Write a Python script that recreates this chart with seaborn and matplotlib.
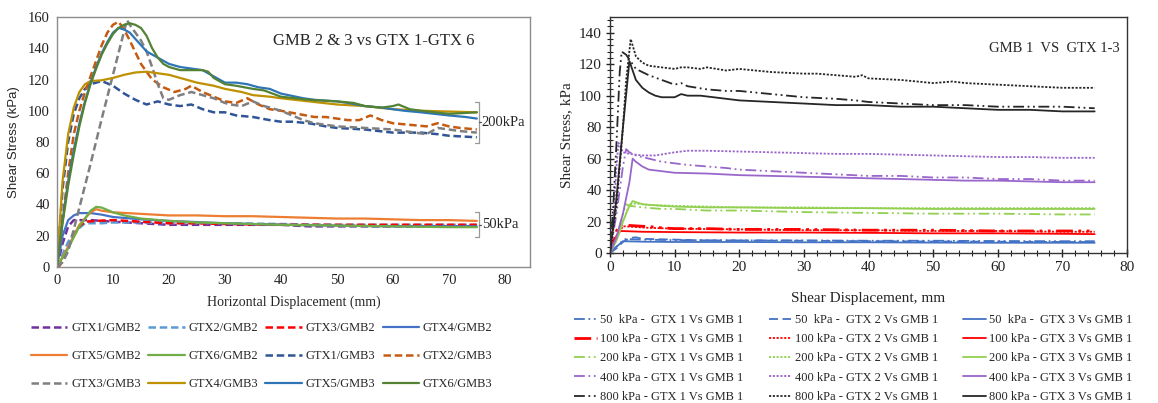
import numpy as np
import pandas as pd
import matplotlib
matplotlib.use("Agg")
import matplotlib.pyplot as plt
from matplotlib.ticker import MultipleLocator, AutoMinorLocator
import seaborn as sns

# ---------------- LEFT PANEL DATA ----------------
left_labels = ["GTX1/GMB2", "GTX2/GMB2", "GTX3/GMB2", "GTX4/GMB2",
               "GTX5/GMB2", "GTX6/GMB2", "GTX1/GMB3", "GTX2/GMB3",
               "GTX3/GMB3", "GTX4/GMB3", "GTX5/GMB3", "GTX6/GMB3"]

gtx1_gmb2_x = [0, 1, 2, 3, 4, 6, 10, 15, 20, 25, 30, 35, 40, 45, 50, 55, 60, 65, 70, 75]
gtx1_gmb2_y = [0, 15, 26, 30, 30, 30, 29, 28, 27, 27, 27, 27, 27, 26, 26, 26, 26, 26, 26, 26]
gtx2_gmb2_x = [0, 1, 2, 3, 5, 8, 10, 15, 20, 30, 40, 50, 60, 70, 75]
gtx2_gmb2_y = [0, 8, 16, 22, 28, 28, 28.5, 28.5, 28, 28, 27.5, 27, 27, 27, 27]
gtx3_gmb2_x = [0, 0.5, 1, 2, 3, 4, 5, 7, 10, 15, 20, 25, 30, 40, 50, 60, 70, 75]
gtx3_gmb2_y = [0, 1, 4, 12, 20, 26, 29, 29.5, 30, 29, 28, 28, 27.5, 27, 27, 27, 27, 27]
gtx4_gmb2_x = [0, 1, 2, 3, 4, 6, 8, 10, 15, 20, 30, 40, 50, 60, 70, 75]
gtx4_gmb2_y = [0, 20, 30, 33, 34.5, 34.5, 33.5, 32, 30.5, 29.5, 28, 27, 26.5, 26, 26, 26]
gtx5_gmb2_x = [0, 2, 4, 6, 7, 8, 10, 15, 20, 25, 30, 35, 40, 45, 50, 55, 60, 65, 70, 75]
gtx5_gmb2_y = [0, 13, 27, 35, 37, 36, 35, 34, 33, 33, 32.5, 32.5, 32, 31.5, 31, 31, 30.5, 30, 30, 29.5]
gtx6_gmb2_x = [0, 2, 4, 6, 7, 8, 10, 12, 15, 20, 25, 30, 40, 50, 60, 70, 75]
gtx6_gmb2_y = [0, 12, 26, 36, 38.5, 38, 35, 33, 31, 29.5, 28.5, 28, 27, 26.5, 26, 25.5, 25.5]

gtx1_gmb3_x = [0, 1, 2, 3, 4, 5, 6, 8, 10, 12, 14, 16, 18, 20, 22, 24, 26, 28, 30, 32, 35, 38,
               40, 42, 45, 48, 50, 55, 60, 65, 68, 70, 75]
gtx1_gmb3_y = [0, 50, 80, 98, 108, 114, 117, 119, 116, 111, 107, 104, 106, 104, 103, 104, 101, 99,
               99, 97, 96, 94, 93, 93, 92, 90, 89, 88, 86, 86, 85, 84, 83]
gtx2_gmb3_x = [0, 1, 2, 3, 4, 5, 6, 7, 8, 9, 10, 11, 12, 13, 15, 17, 19, 21, 23, 24, 26, 28, 30,
               32, 34, 36, 38, 40, 43, 46, 48, 50, 52, 54, 56, 58, 60, 63, 66, 68, 70, 72, 75]
gtx2_gmb3_y = [0, 30, 60, 85, 100, 112, 122, 132, 142, 150, 155, 157, 152, 145, 130, 120, 115,
               112, 114, 116, 112, 109, 106, 105, 108, 104, 101, 100, 98, 96, 96, 95, 94, 94, 97,
               94, 92, 91, 90, 92, 90, 89, 88]
gtx3_gmb3_x = [0, 1, 2, 4, 6, 8, 10, 11, 12, 12.5, 13, 14, 15, 16, 17, 18, 19, 20, 22, 24, 26,
               28, 30, 31, 33, 35, 37, 40, 42, 44, 46, 48, 50, 55, 60, 64, 66, 68, 70, 72, 75]
gtx3_gmb3_y = [0, 3, 10, 38, 66, 95, 123, 137, 151, 158, 155, 150, 145, 138, 128, 117, 108, 107,
               110, 112, 110, 108, 105, 104, 103, 106, 103, 100, 97, 94, 92, 91, 90, 89, 88, 86,
               85, 89, 88, 87, 86]
gtx4_gmb3_x = [0, 1, 2, 3, 4, 5, 6, 8, 10, 12, 14, 16, 18, 20, 22, 25, 28, 30, 33, 35, 38, 40,
               45, 50, 55, 60, 65, 70, 75]
gtx4_gmb3_y = [0, 55, 85, 102, 112, 117, 119, 119.5, 121, 123, 124.5, 125, 124, 123, 121, 118,
               116, 114, 112, 110, 109, 108, 106, 104, 103, 101, 100, 99.5, 99]
gtx5_gmb3_x = [0, 1, 2, 3, 4, 5, 6, 7, 8, 9, 10, 11, 12, 13, 14, 16, 18, 20, 22, 24, 26, 28, 30,
               32, 34, 36, 38, 40, 44, 46, 50, 52, 55, 58, 60, 62, 65, 70, 73, 75]
gtx5_gmb3_y = [0, 30, 55, 75, 92, 106, 118, 128, 137, 144, 150, 153, 152, 150, 146, 138, 134,
               130, 128, 127, 126, 122, 118, 118, 117, 115, 114, 111, 108, 107, 106, 105, 103,
               102, 101, 100, 99, 97, 96, 95]
gtx6_gmb3_x = [0, 1, 2, 3, 4, 5, 6, 7, 8, 9, 10, 11, 12, 13, 14, 15, 16, 17, 18, 19, 20, 22, 24,
               26, 27, 28, 30, 32, 35, 37, 40, 45, 50, 53, 55, 58, 60, 61, 63, 65, 70, 75]
gtx6_gmb3_y = [0, 28, 52, 72, 90, 105, 117, 127, 136, 143, 149, 153, 155, 156, 155, 153, 148,
               140, 134, 130, 128, 126, 126, 126, 125, 121, 117, 116, 114, 113, 109, 107, 106,
               105, 103, 102, 103, 104, 101, 100, 98, 99]

left_x = [gtx1_gmb2_x, gtx2_gmb2_x, gtx3_gmb2_x, gtx4_gmb2_x, gtx5_gmb2_x, gtx6_gmb2_x,
          gtx1_gmb3_x, gtx2_gmb3_x, gtx3_gmb3_x, gtx4_gmb3_x, gtx5_gmb3_x, gtx6_gmb3_x]
left_y = [gtx1_gmb2_y, gtx2_gmb2_y, gtx3_gmb2_y, gtx4_gmb2_y, gtx5_gmb2_y, gtx6_gmb2_y,
          gtx1_gmb3_y, gtx2_gmb3_y, gtx3_gmb3_y, gtx4_gmb3_y, gtx5_gmb3_y, gtx6_gmb3_y]
left_colors = ["#7030A0", "#5B9BD5", "#FF0000", "#4472C4", "#ED7D31", "#70AD47",
               "#2F5597", "#C55A11", "#7F7F7F", "#BF9000", "#2E75B6", "#548235"]
left_dashed = [True, True, True, False, False, False, True, True, True, False, False, False]

brackets = [(79.5, 105.5, "200kPa"), (19.0, 35.0, "50kPa")]

# ---------------- RIGHT PANEL DATA ----------------
pressures = ["50", "100", "200", "400", "800"]
gtx_names = ["GTX 1", "GTX 2", "GTX 3"]
press_colors = ["#4472C4", "#FF0000", "#92D050", "#9966CC", "#262626"]

r50_1_x = [0, 1, 2, 2.5, 3, 5, 10, 20, 30, 40, 50, 60, 70, 75]
r50_1_y = [0, 4, 8, 9, 8.8, 8.5, 8.2, 8, 8, 7.8, 7.8, 7.6, 7.5, 7.5]
r50_2_x = [0, 1, 2, 3, 4, 5, 10, 15, 20, 30, 40, 50, 60, 70, 75]
r50_2_y = [0, 3, 7, 9.5, 10, 9, 8.5, 8, 8, 7.8, 7.5, 7.3, 7.2, 7, 7]
r50_3_x = [0, 1, 2, 5, 10, 20, 30, 40, 50, 60, 70, 75]
r50_3_y = [0, 4, 7.5, 7.2, 7, 7, 6.8, 6.8, 6.6, 6.5, 6.5, 6.5]

r100_1_x = [0, 0.5, 1, 1.5, 3, 5, 7, 8, 10, 15, 20, 30, 40, 50, 60, 70, 75]
r100_1_y = [0, 6, 14, 18, 17.5, 17, 16.5, 16, 15.5, 15.5, 15, 15, 14.5, 14.5, 14, 14, 14]
r100_2_x = [0, 1, 2, 4, 6, 10, 20, 30, 40, 50, 60, 70, 75]
r100_2_y = [0, 10, 17, 16.5, 16, 15.5, 15, 14.5, 14.5, 14, 14, 13.5, 13.5]
r100_3_x = [0, 0.5, 1, 1.5, 3, 5, 10, 20, 30, 40, 50, 60, 70, 75]
r100_3_y = [0, 5, 11, 14, 13.8, 13.5, 13.3, 13, 13, 12.8, 12.5, 12.5, 12.2, 12]

r200_1_x = [0, 1, 2, 2.5, 3, 5, 8, 10, 15, 20, 30, 40, 50, 60, 70, 75]
r200_1_y = [0, 10, 25, 31, 30, 29, 28, 28, 27, 27, 26, 25.5, 25, 25, 24.5, 24.5]
r200_2_x = [0, 1, 2, 3, 4, 6, 10, 15, 20, 30, 40, 50, 60, 70, 75]
r200_2_y = [0, 8, 20, 31, 31.5, 30.5, 30, 29.5, 29, 29, 28.5, 28.5, 28.5, 28.5, 28.5]
r200_3_x = [0, 1, 2, 3, 3.5, 5, 8, 10, 15, 20, 30, 40, 50, 60, 70, 75]
r200_3_y = [0, 8, 20, 30, 33, 31, 30, 29.5, 29, 29, 28.5, 28.5, 28, 28, 28, 28]

r400_1_x = [0, 1, 2, 2.5, 3, 4, 6, 8, 10, 12, 15, 18, 20, 25, 30, 35, 40, 45, 50, 55, 60, 65, 70, 75]
r400_1_y = [0, 25, 55, 66, 64, 62, 60, 58, 57, 56, 55, 54, 53, 52, 51, 50, 49, 49, 48, 48, 47, 47, 46, 46]
r400_2_x = [0, 0.5, 1, 1.3, 2, 3, 5, 7, 10, 12, 15, 20, 25, 30, 35, 40, 45, 50, 55, 60, 65, 70, 75]
r400_2_y = [0, 20, 55, 70, 64, 63, 62, 62, 64, 65, 65, 64.5, 64, 63.5, 63, 63, 62.5, 62, 61.5,
            61, 61, 60.5, 60.5]
r400_3_x = [0, 1, 2, 3, 3.5, 4, 5, 6, 8, 10, 15, 20, 25, 30, 35, 40, 45, 50, 55, 60, 65, 70, 75]
r400_3_y = [0, 10, 25, 45, 60, 58, 55, 53, 52, 51, 50.5, 49.5, 49, 48.5, 48, 47.5, 47, 46.5, 46,
            46, 45.5, 45, 45]

r800_1_x = [0, 0.5, 1, 1.5, 1.8, 2.5, 3, 4, 5, 6, 8, 10, 11, 12, 15, 18, 20, 25, 30, 35, 38, 40,
            45, 50, 55, 60, 65, 70, 75]
r800_1_y = [0, 30, 70, 115, 128, 126, 123, 117, 115, 113, 110, 107, 108, 106, 104, 103, 103, 101,
            99, 98, 97, 96, 95, 94, 94, 93, 93, 93, 92]
r800_2_x = [0, 1, 2, 2.5, 3.2, 4, 5, 6, 8, 10, 11, 12, 14, 15, 18, 20, 25, 30, 32, 35, 38, 39,
            40, 45, 50, 53, 55, 60, 65, 70, 75]
r800_2_y = [0, 30, 80, 110, 136, 125, 121, 119, 118, 117, 118, 118, 117, 118, 116, 117, 115, 114,
            114, 113, 112, 113, 111, 110, 108, 109, 108, 107, 106, 105, 105]
r800_3_x = [0, 1, 2, 3, 3.5, 4, 5, 6, 7, 8, 9, 10, 11, 12, 14, 16, 18, 20, 25, 30, 35, 40, 45,
            50, 55, 60, 65, 70, 75]
r800_3_y = [0, 35, 80, 122, 116, 110, 105, 102, 100, 99, 99, 99, 101, 100, 100, 99, 98, 97, 96,
            95, 94, 94, 93, 93, 92, 91, 91, 90, 90]

right_x = [[r50_1_x, r50_2_x, r50_3_x], [r100_1_x, r100_2_x, r100_3_x],
           [r200_1_x, r200_2_x, r200_3_x], [r400_1_x, r400_2_x, r400_3_x],
           [r800_1_x, r800_2_x, r800_3_x]]
right_y = [[r50_1_y, r50_2_y, r50_3_y], [r100_1_y, r100_2_y, r100_3_y],
           [r200_1_y, r200_2_y, r200_3_y], [r400_1_y, r400_2_y, r400_3_y],
           [r800_1_y, r800_2_y, r800_3_y]]

# ---------------- FIGURE ----------------
sns.set_style("white")
plt.rcParams['font.family'] = ['Liberation Serif', 'DejaVu Serif']
plt.rcParams['axes.linewidth'] = 1.0

fig = plt.figure(figsize=(11.58, 4.03), dpi=100)
axL = fig.add_axes([0.0492, 0.3375, 0.4085, 0.6203])
axR = fig.add_axes([0.5268, 0.3722, 0.4464, 0.5856])

# ---- Left panel ----
for lab, xs, ys, col, dsh in zip(left_labels, left_x, left_y, left_colors, left_dashed):
    df = pd.DataFrame({"x": xs, "y": ys})
    sns.lineplot(data=df, x="x", y="y", ax=axL, color=col, label=lab,
                 linestyle=(0, (3, 1.5)) if dsh else "-",
                 linewidth=1.8 if dsh else 1.6, sort=False)

axL.set_xlim(0, 84.5)
axL.set_ylim(0, 160)
axL.set_xticks(np.arange(0, 81, 10))
axL.yaxis.set_major_locator(MultipleLocator(20))
axL.tick_params(axis="both", labelsize=10.5, length=0, pad=5, colors="#222222")
for s in axL.spines.values():
    s.set_color("#8C8C8C")
axL.set_xlabel("Horizontal Displacement (mm)", fontsize=10, labelpad=6)
axL.set_ylabel("Shear Stress (kPa)", fontsize=9.5, family=["Liberation Sans", "DejaVu Sans"],
               labelpad=6)
axL.text(0.67, 0.905, "GMB 2 & 3 vs GTX 1-GTX 6", transform=axL.transAxes,
         ha="center", va="center", fontsize=12)

bx = 75.3
for lo, hi, txt in brackets:
    mid = (lo + hi) / 2
    axL.plot([bx - 0.6, bx, bx, bx - 0.6], [hi, hi, lo, lo], color="#999999", lw=0.9,
             clip_on=False)
    axL.plot([bx, bx + 0.5], [mid, mid], color="#555555", lw=0.9, clip_on=False)
    axL.text(bx + 0.6, mid, txt, ha="left", va="center", fontsize=10.5)

hL, lL = axL.get_legend_handles_labels()
ncolL, nrowL = 4, 3
order = [r * ncolL + c for c in range(ncolL) for r in range(nrowL)]
axL.legend([hL[i] for i in order], [lL[i] for i in order], ncol=ncolL,
           loc="upper center", bbox_to_anchor=(0.226, 0.229), bbox_transform=fig.transFigure,
           frameon=False, fontsize=9, handlelength=2.9, handletextpad=0.3,
           columnspacing=0.6, labelspacing=1.3)

# ---- Right panel ----
ls_gtx1 = (0, (6, 2, 1, 2, 1, 2))
for pi, p in enumerate(pressures):
    for gi, g in enumerate(gtx_names):
        if gi == 0:
            ls = ls_gtx1
        elif gi == 1:
            ls = (0, (5, 2.5)) if p == "50" else (0, (1.2, 0.9))
        else:
            ls = "-"
        lw = 1.3
        if p == "100" and gi == 0:
            lw = 2.0
        sp = "  " if p == "50" else " "
        lab = f"{p}{sp}kPa -{' ' if p != '50' else '  '}{g} Vs GMB 1"
        df = pd.DataFrame({"x": right_x[pi][gi], "y": right_y[pi][gi]})
        sns.lineplot(data=df, x="x", y="y", ax=axR, color=press_colors[pi],
                     linestyle=ls, linewidth=lw, label=lab, sort=False)

axR.set_xlim(0, 80)
axR.set_ylim(0, 150)
axR.set_xticks(np.arange(0, 81, 10))
axR.set_yticks(np.arange(0, 141, 20))
axR.xaxis.set_minor_locator(AutoMinorLocator(5))
axR.yaxis.set_minor_locator(AutoMinorLocator(5))
axR.tick_params(axis="both", which="major", direction="inout", length=6, width=1,
                labelsize=11, colors="#222222", pad=3)
axR.tick_params(axis="both", which="minor", direction="inout", length=4, width=0.8,
                colors="#222222")
axR.tick_params(left=True, bottom=True, which="both")
for s in axR.spines.values():
    s.set_color("#333333")
axR.set_xlabel("Shear Displacement, mm", fontsize=11, labelpad=13)
axR.set_ylabel("Shear Stress, kPa", fontsize=11, labelpad=4)
axR.text(0.86, 0.865, "GMB 1  VS  GTX 1-3", transform=axR.transAxes,
         ha="center", va="center", fontsize=10.5)

hR, lR = axR.get_legend_handles_labels()
ncolR, nrowR = 3, 5
orderR = [r * ncolR + c for c in range(ncolR) for r in range(nrowR)]
axR.legend([hR[i] for i in orderR], [lR[i] for i in orderR], ncol=ncolR,
           loc="upper center", bbox_to_anchor=(0.737, 0.249), bbox_transform=fig.transFigure,
           frameon=False, fontsize=9, handlelength=1.8, handletextpad=0.3,
           columnspacing=2.0, labelspacing=0.58)

fig.savefig("out.png", dpi=100)
